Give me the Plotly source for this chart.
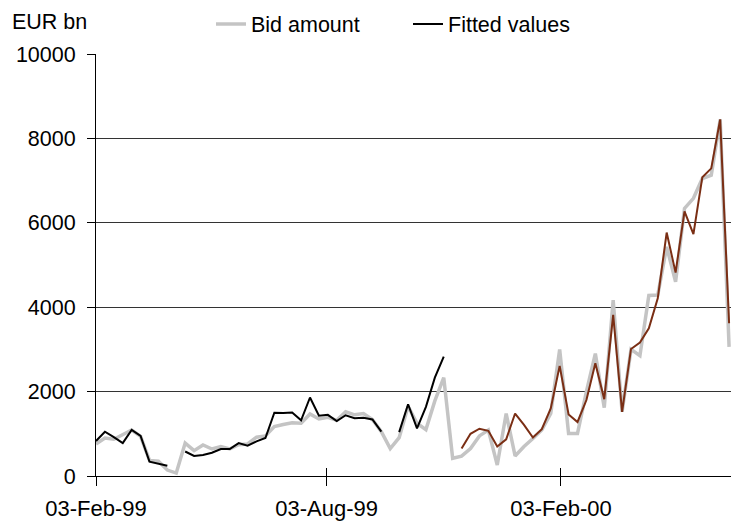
import pandas as pd
import plotly.graph_objects as go

start_date = "1999-02-03"
n_weeks = 72
dates = pd.date_range(start_date, periods=n_weeks, freq="7D")

bid_amount = [760, 900, 870, 970, 1090, 940, 370, 350, 140, 70,
              780, 600, 735, 640, 700, 640, 740, 760, 920, 950,
              1170, 1220, 1260, 1250, 1470, 1350, 1390, 1320, 1520, 1450,
              1480, 1340, 1050, 650, 910, 1650, 1250, 1100, 1780, 2330,
              420, 470, 650, 950, 1090, 260, 1480, 475, 700, 890,
              1090, 1480, 3000, 1010, 1010, 2000, 2900, 1620, 4170, 1520,
              3000, 2850, 4280, 4290, 5430, 4600, 6340, 6580, 7050, 7130,
              8450, 3060]

N = None
fitted_early = [830, 1050, 920, 780, 1090, 950, 340, 300, 245, N,
                580, 475, 500, 550, 640, 640, 780, 720, 820, 900,
                1500, 1490, 1505, 1320, 1860, 1430, 1450, 1300, 1440, 1370,
                1380, 1340, 1050, N, 1040, 1700, 1130, 1640, 2330, 2830] + [N] * 32

fitted_late = [N] * 41 + [650, 1000, 1120, 1070, 700, 870, 1480, 1210, 910,
                          1110, 1600, 2610, 1460, 1280, 1800, 2670, 1820, 3820, 1520,
                          3010, 3160, 3500, 4210, 5770, 4820, 6270, 5730, 7080, 7290,
                          8450, 3620]

x_tick_dates = ["1999-02-03", "1999-08-03", "2000-02-03"]
x_tick_labels = ["03-Feb-99", "03-Aug-99", "03-Feb-00"]
y_ticks = [0, 2000, 4000, 6000, 8000, 10000]
y_tick_labels = ["0", "2000", "4000", "6000", "8000", "10000"]

FONT = "Liberation Sans, Arial, sans-serif"

# the page shows the figure with an 8 px body offset; keep the plot inside the visible area
W, H = 739, 519
L, R, T, B = 88, 723, 46, 468
PW, PH = R - L, B - T

fig = go.Figure()
fig.add_trace(go.Scatter(x=dates, y=bid_amount, mode="lines", name="Bid amount",
                         line=dict(color="#c4c4c4", width=3.5)))
fig.add_trace(go.Scatter(x=dates, y=fitted_early, mode="lines", name="Fitted values",
                         line=dict(color="#000000", width=2), connectgaps=False))
fig.add_trace(go.Scatter(x=dates, y=fitted_late, mode="lines", name="Fitted values (late)",
                         line=dict(color="#7a2e14", width=2), connectgaps=False,
                         showlegend=False))
# empty trace to carry the inner tick marks axis
fig.add_trace(go.Scatter(x=[dates[0]], y=[None], xaxis="x2", showlegend=False,
                         hoverinfo="skip"))

xrange = ["1999-02-03", "2000-06-15 12:00"]
fig.update_layout(
    width=W, height=H,
    margin=dict(l=L, r=W - R, t=T, b=H - B, autoexpand=False),
    paper_bgcolor="white", plot_bgcolor="white",
    font=dict(family=FONT, size=20, color="black"),
    showlegend=True,
    legend=dict(orientation="h", x=(203 - L) / PW, y=(B - 16) / PH, xanchor="left",
                yanchor="middle", font=dict(size=21.5), entrywidth=152,
                bgcolor="rgba(0,0,0,0)"),
    xaxis=dict(type="date", range=xrange, tickvals=x_tick_dates, ticktext=x_tick_labels,
               showgrid=False, showline=True, linecolor="black", linewidth=1,
               ticks="outside", ticklen=9, tickcolor="black", tickwidth=1,
               zeroline=False, tickfont=dict(size=22), ticklabelstandoff=4),
    xaxis2=dict(type="date", range=xrange, overlaying="x", tickvals=x_tick_dates,
                showticklabels=False, ticks="inside", ticklen=8, tickcolor="black",
                showgrid=False, showline=False, zeroline=False, side="bottom"),
    yaxis=dict(range=[0, 10000], tickvals=y_ticks, ticktext=y_tick_labels,
               showgrid=True, gridcolor="#333333",
               gridwidth=1, showline=True, linecolor="black", linewidth=1,
               ticks="outside", ticklen=8, tickcolor="black", zeroline=False,
               tickfont=dict(size=21.5), ticklabelstandoff=7),
    annotations=[dict(text="EUR bn", xref="paper", yref="paper",
                      x=(2 - L) / PW, y=(B - 14) / PH, xanchor="left",
                      yanchor="middle", showarrow=False, font=dict(size=21.5))],
)

fig.write_html("out.html")
